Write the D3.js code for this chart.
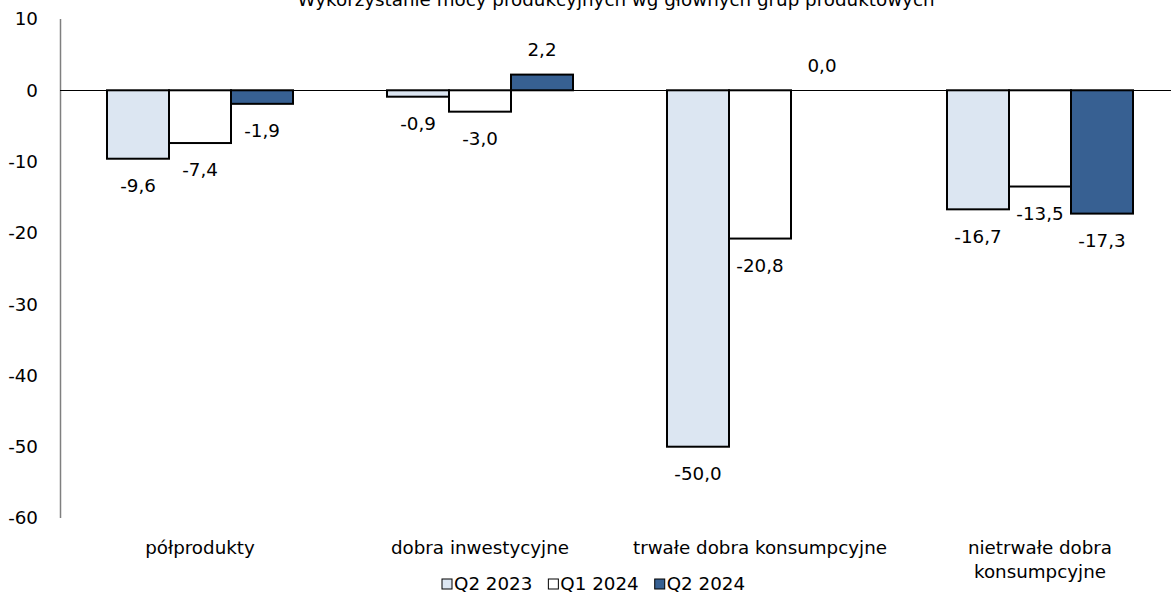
<!DOCTYPE html>
<html>
<head>
<meta charset="utf-8">
<script src="https://cdn.jsdelivr.net/npm/d3@7"></script>
<style>
  html, body { margin: 0; padding: 0; background: #fff; }
  svg text { font-family: "DejaVu Sans", Verdana, sans-serif; fill: #000; }
</style>
</head>
<body>
<svg id="chart" width="1171" height="599"></svg>
<script>
// Capacity utilisation balance by main product group
const title = "Wykorzystanie mocy produkcyjnych wg głównych grup produktowych";
const categories = [
  ["półprodukty"],
  ["dobra inwestycyjne"],
  ["trwałe dobra konsumpcyjne"],
  ["nietrwałe dobra", "konsumpcyjne"]
];
const seriesNames = ["Q2 2023", "Q1 2024", "Q2 2024"];
const q2_2023 = [-9.6, -0.9, -50.0, -16.7];
const q1_2024 = [-7.4, -3.0, -20.8, -13.5];
const q2_2024 = [-1.9, 2.2, 0.0, -17.3];
const yTicks = [10, 0, -10, -20, -30, -40, -50, -60];
const colors = ["#dce6f2", "#ffffff", "#376092"];

const series = [q2_2023, q1_2024, q2_2024];
const catKeys = categories.map(c => c.join(" "));

const svg = d3.select("#chart");
const fontSize = 18.3;

const x = d3.scaleBand().domain(catKeys).range([60, 1180]).paddingInner(0).paddingOuter(0);
const xs = d3.scaleBand().domain(seriesNames).range([47, 233]).padding(0);
const y = d3.scaleLinear().domain([-60, 10]).range([518, 19]);

const fmt = v => d3.format(".1f")(v).replace(".", ",").replace("−", "-");

// title, running along the top edge of the canvas
svg.append("text")
  .attr("x", 616).attr("y", 6)
  .attr("text-anchor", "middle")
  .style("font-size", fontSize + "px")
  .text(title);

// y axis: labels only, plain grey line
const yAxis = d3.axisLeft(y).tickValues(yTicks).tickSize(0).tickPadding(0).tickFormat(d => String(d));
const yg = svg.append("g").attr("transform", "translate(38,0)").call(yAxis);
yg.select(".domain").remove();
yg.selectAll("text").style("font-size", fontSize + "px").style("font-family", "DejaVu Sans").attr("fill", "#000");

svg.append("line")
  .attr("x1", 60.5).attr("x2", 60.5)
  .attr("y1", y(10)).attr("y2", y(-60))
  .attr("stroke", "#7f7f7f").attr("stroke-width", 1.5);

// bars with value labels at the outer end
series.forEach((vals, si) => {
  const g = svg.append("g");
  g.selectAll("rect").data(vals).join("rect")
    .attr("x", (d, i) => x(catKeys[i]) + xs(seriesNames[si]))
    .attr("width", xs.bandwidth())
    .attr("y", d => y(Math.max(0, d)))
    .attr("height", d => Math.abs(y(d) - y(0)))
    .attr("fill", colors[si])
    .attr("stroke", "#000")
    .attr("stroke-width", 2)
    .attr("display", d => d === 0 ? "none" : null);
  g.selectAll("text").data(vals).join("text")
    .attr("x", (d, i) => x(catKeys[i]) + xs(seriesNames[si]) + xs.bandwidth() / 2)
    .attr("y", d => d < 0 ? y(d) + 27 : y(d) - 25)
    .attr("dy", "0.35em")
    .attr("text-anchor", "middle")
    .style("font-size", fontSize + "px")
    .text(d => fmt(d));
});

// zero line
svg.append("line")
  .attr("x1", 60).attr("x2", 1171)
  .attr("y1", Math.round(y(0)) + 0.5).attr("y2", Math.round(y(0)) + 0.5)
  .attr("stroke", "#000").attr("stroke-width", 1);

// category labels
categories.forEach((lines, i) => {
  const t = svg.append("text")
    .attr("x", x(catKeys[i]) + x.bandwidth() / 2)
    .attr("y", 548)
    .attr("text-anchor", "middle")
    .style("font-size", fontSize + "px");
  lines.forEach((ln, li) => {
    t.append("tspan")
      .attr("x", x(catKeys[i]) + x.bandwidth() / 2)
      .attr("dy", li === 0 ? "0.35em" : "1.3em")
      .text(ln);
  });
});

// legend
const legend = svg.append("g");
let lx = 442;
seriesNames.forEach((name, i) => {
  legend.append("rect")
    .attr("x", lx).attr("y", 579)
    .attr("width", 10).attr("height", 10)
    .attr("fill", colors[i]).attr("stroke", "#000").attr("stroke-width", 1);
  const t = legend.append("text")
    .attr("x", lx + 12).attr("y", 584)
    .attr("dy", "0.35em")
    .style("font-size", fontSize + "px")
    .text(name);
  lx += 12 + t.node().getComputedTextLength() + 16;
});
</script>
</body>
</html>
